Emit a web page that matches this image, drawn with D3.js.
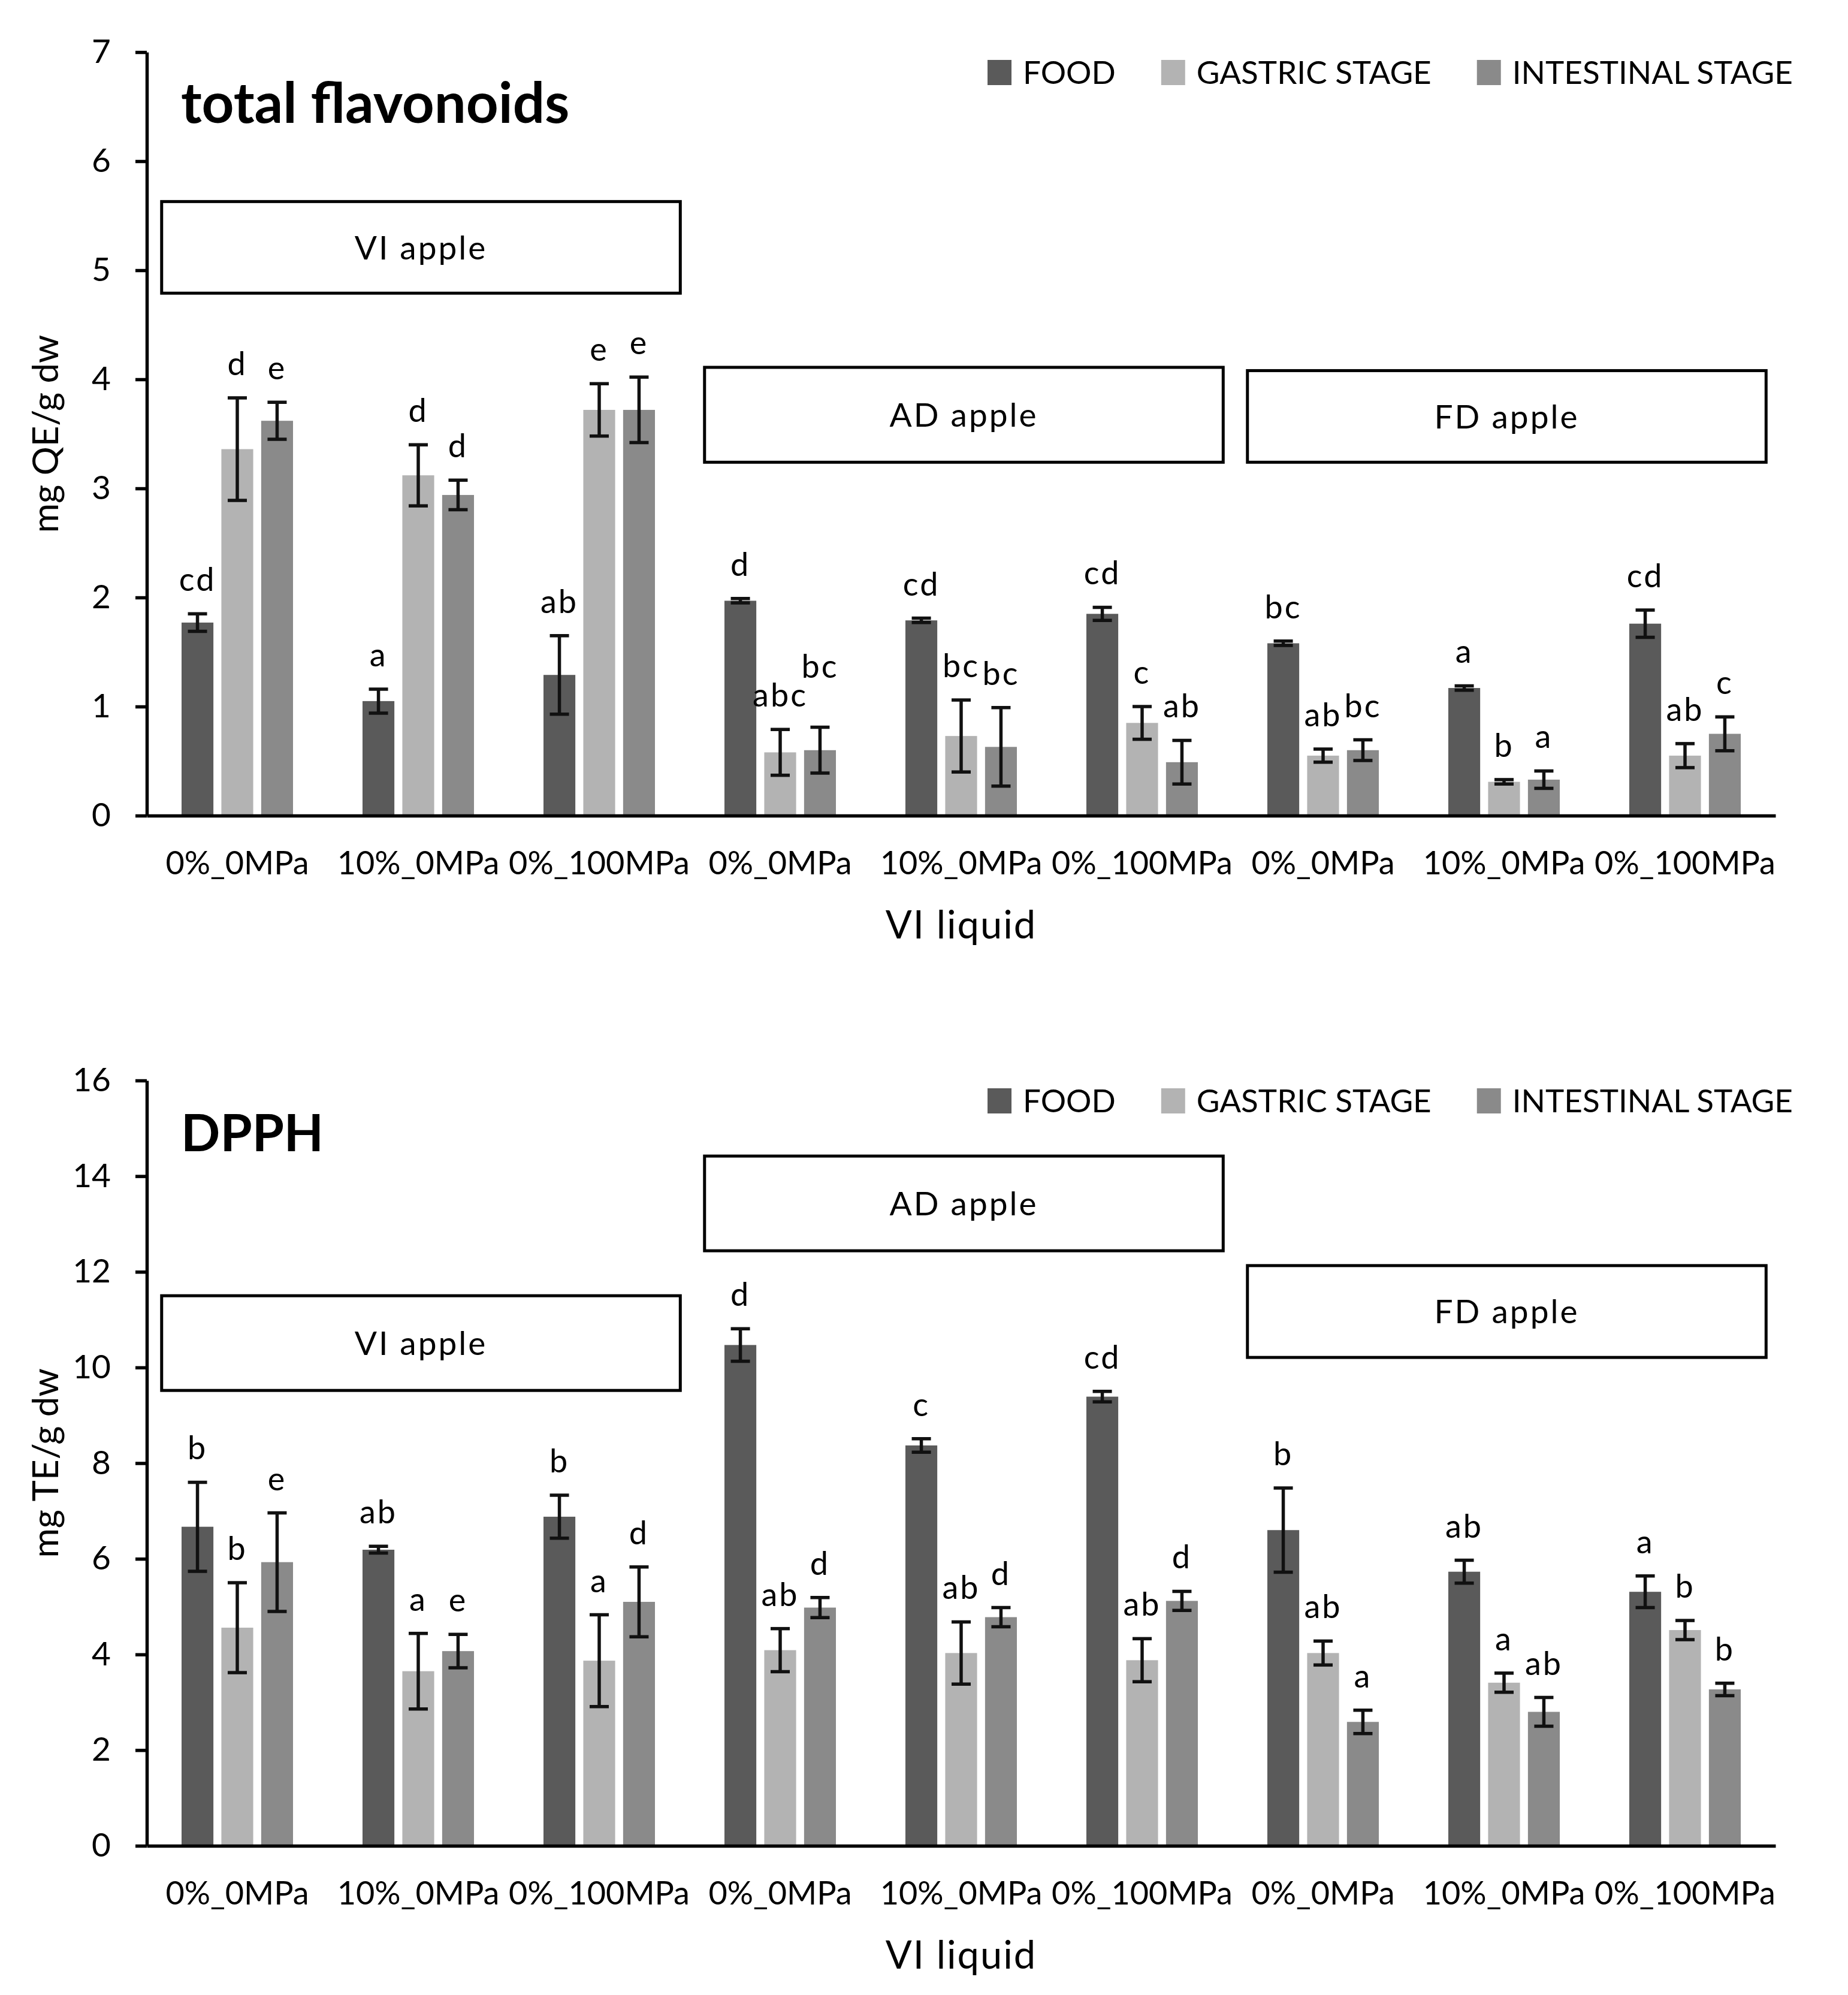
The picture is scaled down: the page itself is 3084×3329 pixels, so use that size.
<!DOCTYPE html>
<html>
<head>
<meta charset="utf-8">
<script src="https://cdn.jsdelivr.net/npm/d3@7"></script>
<style>
  body { margin: 0; background: #fff; }
  svg { display: block; font-family: Lato, "Open Sans", sans-serif; }
</style>
</head>
<body>
<svg id="chart" width="3084" height="3329"></svg>
<script>
// Categories
const apples = ["VI apple", "AD apple", "FD apple"];
const liquids = ["0%_0MPa", "10%_0MPa", "0%_100MPa"];
const series = ["FOOD", "GASTRIC STAGE", "INTESTINAL STAGE"];
const seriesColors = ["#5a5a5a", "#b3b3b3", "#8a8a8a"];

// Total flavonoids (mg QE/g dw)
const flavFood = [1.77, 1.05, 1.29, 1.97, 1.79, 1.85, 1.58, 1.17, 1.76];
const flavFoodErr = [0.08, 0.11, 0.36, 0.02, 0.02, 0.06, 0.02, 0.02, 0.125];
const flavGastric = [3.36, 3.12, 3.72, 0.58, 0.73, 0.85, 0.55, 0.31, 0.55];
const flavGastricErr = [0.47, 0.28, 0.24, 0.21, 0.33, 0.15, 0.06, 0.02, 0.11];
const flavIntestinal = [3.62, 2.94, 3.72, 0.60, 0.63, 0.49, 0.60, 0.33, 0.75];
const flavIntestinalErr = [0.17, 0.135, 0.30, 0.21, 0.36, 0.20, 0.095, 0.08, 0.155];
const flavFoodLetters = ["cd", "a", "ab", "d", "cd", "cd", "bc", "a", "cd"];
const flavGastricLetters = ["d", "d", "e", "abc", "bc", "c", "ab", "b", "ab"];
const flavIntestinalLetters = ["e", "d", "e", "bc", "bc", "ab", "bc", "a", "c"];
const flavTicks = [0, 1, 2, 3, 4, 5, 6, 7];

// DPPH (mg TE/g dw)
const dpphFood = [6.67, 6.19, 6.88, 10.47, 8.37, 9.39, 6.60, 5.73, 5.31];
const dpphFoodErr = [0.93, 0.07, 0.45, 0.34, 0.14, 0.11, 0.88, 0.24, 0.33];
const dpphGastric = [4.56, 3.65, 3.87, 4.09, 4.03, 3.88, 4.03, 3.41, 4.51];
const dpphGastricErr = [0.94, 0.79, 0.96, 0.45, 0.65, 0.45, 0.25, 0.20, 0.20];
const dpphIntestinal = [5.93, 4.07, 5.10, 4.98, 4.78, 5.12, 2.59, 2.80, 3.27];
const dpphIntestinalErr = [1.03, 0.35, 0.73, 0.21, 0.20, 0.20, 0.245, 0.30, 0.13];
const dpphFoodLetters = ["b", "ab", "b", "d", "c", "cd", "b", "ab", "a"];
const dpphGastricLetters = ["b", "a", "a", "ab", "ab", "ab", "ab", "a", "b"];
const dpphIntestinalLetters = ["e", "e", "d", "d", "d", "d", "a", "ab", "b"];
const dpphTicks = [0, 2, 4, 6, 8, 10, 12, 14, 16];

// Apple-type boxes, vertical extent in data units [bottom, top]
const flavBoxes = [[4.79, 5.63], [3.24, 4.11], [3.24, 4.08]];
const dpphBoxes = [[9.52, 11.5], [12.44, 14.42], [10.21, 12.13]];

const svg = d3.select("#chart");
svg.append("rect").attr("width", 3084).attr("height", 3329).attr("fill", "#fff");

const groups = d3.range(apples.length * liquids.length);
const groupLabel = i => liquids[i % liquids.length];

function drawPanel(p) {
  const left = 245, right = 2963;
  const g = svg.append("g");

  const y = d3.scaleLinear().domain([0, d3.max(p.ticks)]).range([p.bottom, p.top]);
  const x0 = d3.scaleBand().domain(groups).range([left, right])
    .paddingInner(0.384).paddingOuter(0.192);
  const x1 = d3.scaleBand().domain(d3.range(series.length))
    .range([0, x0.bandwidth()]).paddingInner(0.2);

  // Apple boxes
  p.boxes.forEach((b, k) => {
    const bx0 = x0(k * 3) - 0.11 * x0.step();
    const bx1 = x0(k * 3 + 2) + x0.bandwidth() + 0.14 * x0.step();
    g.append("rect")
      .attr("x", bx0).attr("y", y(b[1]))
      .attr("width", bx1 - bx0).attr("height", y(b[0]) - y(b[1]))
      .attr("fill", "#fff").attr("stroke", "#000").attr("stroke-width", 5);
    g.append("text")
      .attr("x", (bx0 + bx1) / 2).attr("y", (y(b[0]) + y(b[1])) / 2)
      .attr("dy", "0.36em").attr("text-anchor", "middle")
      .attr("font-size", 55).attr("letter-spacing", 3)
      .text(apples[k]);
  });

  // Bars
  p.values.forEach((vals, s) => {
    g.append("g").selectAll("rect").data(vals).join("rect")
      .attr("x", (d, i) => x0(i) + x1(s))
      .attr("y", d => y(d))
      .attr("width", x1.bandwidth())
      .attr("height", d => y(0) - y(d))
      .attr("fill", seriesColors[s]);
  });

  // Error bars
  const capW = 32;
  p.values.forEach((vals, s) => {
    const eb = g.append("g").attr("stroke", "#111").attr("stroke-width", 5.5);
    vals.forEach((v, i) => {
      const e = p.errors[s][i];
      const cx = x0(i) + x1(s) + x1.bandwidth() / 2;
      eb.append("line").attr("x1", cx).attr("x2", cx).attr("y1", y(v - e)).attr("y2", y(v + e));
      eb.append("line").attr("x1", cx - capW / 2).attr("x2", cx + capW / 2).attr("y1", y(v + e)).attr("y2", y(v + e));
      eb.append("line").attr("x1", cx - capW / 2).attr("x2", cx + capW / 2).attr("y1", y(v - e)).attr("y2", y(v - e));
    });
  });

  // Significance letters (lifted when they would collide with a neighbour)
  const letterSize = 54;
  groups.forEach(i => {
    const placed = [];
    p.values.forEach((vals, s) => {
      const cx = x0(i) + x1(s) + x1.bandwidth() / 2;
      let by = y(vals[i] + p.errors[s][i]) - 38;
      const t = g.append("text")
        .attr("x", cx).attr("text-anchor", "middle")
        .attr("font-size", letterSize).attr("letter-spacing", 3)
        .text(p.letters[s][i]);
      const w = t.node().getComputedTextLength();
      const h = letterSize * 0.75;
      placed.forEach(q => {
        const hOverlap = cx - w / 2 < q.x + q.w / 2 && q.x - q.w / 2 < cx + w / 2;
        const vOverlap = by - h < q.y && q.y - h < by;
        if (hOverlap && vOverlap) by = q.y - h - 8;
      });
      t.attr("y", by);
      placed.push({ x: cx, y: by, w: w });
    });
  });

  // Y axis
  const ya = g.append("g").attr("transform", `translate(${left},0)`)
    .call(d3.axisLeft(y).tickValues(p.ticks).tickFormat(d3.format("d"))
      .tickSize(19).tickPadding(41).tickSizeOuter(0));
  ya.select(".domain").attr("stroke", "#000").attr("stroke-width", 5.5);
  ya.selectAll(".tick line").attr("stroke", "#000").attr("stroke-width", 5.5);
  ya.selectAll(".tick text").attr("font-size", 55).attr("font-family", "Lato").attr("fill", "#000");

  // X axis
  const xa = g.append("g").attr("transform", `translate(0,${p.bottom})`)
    .call(d3.axisBottom(x0).tickFormat(groupLabel).tickSize(0).tickSizeOuter(0));
  xa.select(".domain").attr("stroke", "#000").attr("stroke-width", 5.5);
  xa.selectAll(".tick text")
    .attr("y", 98).attr("dy", null)
    .attr("font-size", 54).attr("font-family", "Lato").attr("fill", "#000");

  // Axis titles
  g.append("text")
    .attr("transform", `translate(97,${(p.top + p.bottom) / 2}) rotate(-90)`)
    .attr("text-anchor", "middle").attr("font-size", 60)
    .text(p.yLabel);
  g.append("text")
    .attr("x", (left + right) / 2).attr("y", p.bottom + 205)
    .attr("text-anchor", "middle").attr("font-size", 65).attr("letter-spacing", 2)
    .text("VI liquid");

  // Panel title
  g.append("text")
    .attr("x", 302).attr("y", p.top + 118)
    .attr("font-size", p.titleSize).attr("font-weight", "bold")
    .text(p.title);

  // Legend
  let lx = 1648;
  const ly = p.top + 34;
  series.forEach((s, k) => {
    g.append("rect").attr("x", lx).attr("y", ly - 21)
      .attr("width", 40).attr("height", 42).attr("fill", seriesColors[k]);
    const t = g.append("text").attr("x", lx + 59).attr("y", ly).attr("dy", "0.36em")
      .attr("font-size", 53).text(s);
    lx += 59 + t.node().getComputedTextLength() + 76;
  });
}

drawPanel({
  top: 87, bottom: 1361,
  ticks: flavTicks,
  values: [flavFood, flavGastric, flavIntestinal],
  errors: [flavFoodErr, flavGastricErr, flavIntestinalErr],
  letters: [flavFoodLetters, flavGastricLetters, flavIntestinalLetters],
  boxes: flavBoxes,
  title: "total flavonoids", titleSize: 94,
  yLabel: "mg QE/g dw"
});

drawPanel({
  top: 1803, bottom: 3080,
  ticks: dpphTicks,
  values: [dpphFood, dpphGastric, dpphIntestinal],
  errors: [dpphFoodErr, dpphGastricErr, dpphIntestinalErr],
  letters: [dpphFoodLetters, dpphGastricLetters, dpphIntestinalLetters],
  boxes: dpphBoxes,
  title: "DPPH", titleSize: 86,
  yLabel: "mg TE/g dw"
});
</script>
</body>
</html>
